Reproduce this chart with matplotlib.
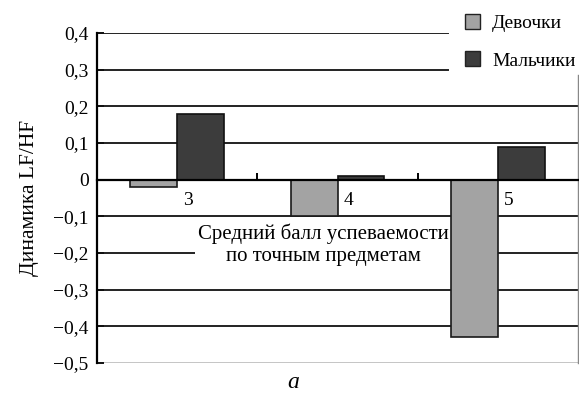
import matplotlib
matplotlib.use("Agg")
import matplotlib.pyplot as plt
from matplotlib.patches import Patch
import numpy as np

categories = ["3", "4", "5"]
girls = [-0.02, -0.10, -0.43]
boys = [0.18, 0.01, 0.09]
yticks = [0.4, 0.3, 0.2, 0.1, 0.0, -0.1, -0.2, -0.3, -0.4, -0.5]
series_names = ["Девочки", "Мальчики"]
ylabel = "Динамика LF/HF"
xlabel = "Средний балл успеваемости\nпо точным предметам"
caption = "а"

plt.rcParams['font.family'] = 'serif'
plt.rcParams['font.serif'] = ['Liberation Serif', 'Times New Roman', 'DejaVu Serif']

fig = plt.figure(figsize=(5.79, 4.03), dpi=100)
ax = fig.add_axes([97/579, 1-363/403, 481/579, 330/403])

x = np.arange(len(categories))
w = 0.293
girl_c = "#a3a3a3"
boy_c = "#3c3c3c"
ax.bar(x - w/2, girls, w, color=girl_c, edgecolor="#1a1a1a", linewidth=1.2, zorder=3)
ax.bar(x + w/2, boys, w, color=boy_c, edgecolor="#111111", linewidth=1.2, zorder=3)

ax.set_xlim(-0.5, 2.5)
ax.set_ylim(-0.5, 0.4)

for y in yticks:
    if y in (0.0, -0.5):
        continue
    xmax = 0.73 if y >= 0.3 else 1.0
    ax.axhline(y, xmin=0, xmax=xmax, color="#222222", lw=1.4, zorder=1)
ax.axhline(-0.5, color="#bbbbbb", lw=1.2, zorder=1)

ax.set_yticks(yticks)
ax.set_yticklabels([("−" if v < 0 else "") + ("%.1f" % abs(v)).replace(".", ",") if v != 0 else "0" for v in yticks],
                   fontsize=14)
ax.tick_params(axis='y', direction='in', length=5, width=1.4, pad=6, color="#111111")

ax.spines['top'].set_visible(False)
ax.spines['bottom'].set_position(('data', 0))
ax.spines['bottom'].set_linewidth(1.6)
ax.spines['bottom'].set_zorder(4)
ax.spines['left'].set_linewidth(1.6)
ax.spines['right'].set_bounds(-0.5, 0.285)
ax.spines['right'].set_color("#888888")
ax.spines['right'].set_linewidth(1.0)
ax.set_xticks([0.5, 1.5])
ax.set_xticklabels([])
ax.tick_params(axis='x', direction='in', length=5, width=1.4)

for i, c in enumerate(categories):
    ax.text(i + 0.07, -0.056, c, ha='center', va='center', fontsize=14, zorder=5)

ax.text(0.91, -0.177, xlabel, ha='center', va='center', fontsize=15, linespacing=1.2,
        bbox=dict(facecolor='white', edgecolor='none', pad=2), zorder=2)

ax.set_ylabel(ylabel, fontsize=15.5, labelpad=10)

handles = [Patch(facecolor=girl_c, edgecolor="#222222"), Patch(facecolor=boy_c, edgecolor="#222222")]
fig.legend(handles, series_names, loc='upper left', bbox_to_anchor=(457/579, 1 - 6/403),
           frameon=False, fontsize=14, handlelength=0.8, handleheight=0.8, labelspacing=1.0,
           handletextpad=0.6, borderaxespad=0)

fig.text(293/579, 1 - 383/403, caption, ha='center', va='center', fontsize=17, style='italic')

fig.savefig("out.png", dpi=100, facecolor='white')
